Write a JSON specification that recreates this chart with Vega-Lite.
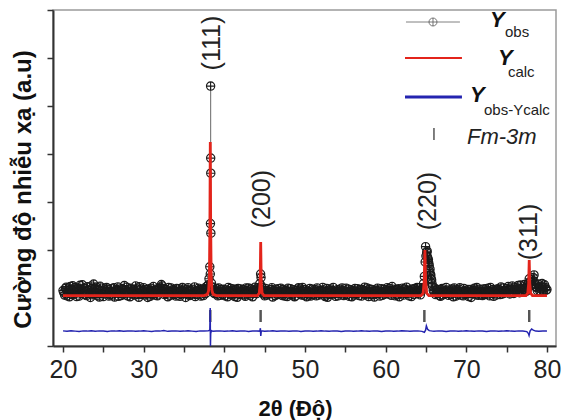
{
  "$schema": "https://vega.github.io/schema/vega-lite/v6.json",
  "autosize": {"type": "none"},
  "width": 503,
  "height": 336,
  "padding": {"left": 53, "top": 10, "right": 7, "bottom": 74},
  "background": "white",
  "config": {
    "font": "Liberation Sans",
    "view": {"stroke": "#9a9a9a", "strokeWidth": 1.5}
  },
  "datasets": {
    "obs": [
      {"x":20.0,"y":2.31},{"x":20.2,"y":2.12},{"x":20.4,"y":2.45},{"x":20.6,"y":2.20},{"x":20.8,"y":2.05},
      {"x":21.0,"y":2.38},{"x":21.2,"y":2.51},{"x":21.4,"y":2.16},{"x":21.6,"y":2.29},{"x":21.8,"y":2.42},
      {"x":22.0,"y":2.08},{"x":22.2,"y":2.35},{"x":22.4,"y":2.55},{"x":22.6,"y":2.22},{"x":22.8,"y":2.14},
      {"x":23.0,"y":2.47},{"x":23.2,"y":2.30},{"x":23.4,"y":2.02},{"x":23.6,"y":2.40},{"x":23.8,"y":2.58},
      {"x":24.0,"y":2.25},{"x":24.2,"y":2.11},{"x":24.4,"y":2.36},{"x":24.6,"y":2.49},{"x":24.8,"y":2.18},
      {"x":25.0,"y":2.06},{"x":25.2,"y":2.33},{"x":25.4,"y":2.44},{"x":25.6,"y":2.21},{"x":25.8,"y":2.13},
      {"x":26.0,"y":2.39},{"x":26.2,"y":2.27},{"x":26.4,"y":2.04},{"x":26.6,"y":2.31},{"x":26.8,"y":2.46},
      {"x":27.0,"y":2.19},{"x":27.2,"y":2.10},{"x":27.4,"y":2.35},{"x":27.6,"y":2.52},{"x":27.8,"y":2.24},
      {"x":28.0,"y":2.09},{"x":28.2,"y":2.28},{"x":28.4,"y":2.41},{"x":28.6,"y":2.17},{"x":28.8,"y":2.34},
      {"x":29.0,"y":2.50},{"x":29.2,"y":2.15},{"x":29.4,"y":2.03},{"x":29.6,"y":2.37},{"x":29.8,"y":2.26},
      {"x":30.0,"y":2.43},{"x":30.2,"y":2.12},{"x":30.4,"y":2.22},{"x":30.6,"y":2.38},{"x":30.8,"y":2.07},
      {"x":31.0,"y":2.30},{"x":31.2,"y":2.48},{"x":31.4,"y":2.20},{"x":31.6,"y":2.11},{"x":31.8,"y":2.33},
      {"x":32.0,"y":2.45},{"x":32.2,"y":2.56},{"x":32.4,"y":2.29},{"x":32.6,"y":2.14},{"x":32.8,"y":2.36},
      {"x":33.0,"y":2.05},{"x":33.2,"y":2.23},{"x":33.4,"y":2.42},{"x":33.6,"y":2.18},{"x":33.8,"y":2.31},
      {"x":34.0,"y":2.08},{"x":34.2,"y":2.26},{"x":34.4,"y":2.39},{"x":34.6,"y":2.15},{"x":34.8,"y":2.44},
      {"x":35.0,"y":2.21},{"x":35.2,"y":2.02},{"x":35.4,"y":2.34},{"x":35.6,"y":2.27},{"x":35.8,"y":2.13},
      {"x":36.0,"y":2.37},{"x":36.2,"y":2.19},{"x":36.4,"y":2.06},{"x":36.6,"y":2.30},{"x":36.8,"y":2.41},
      {"x":37.0,"y":2.16},{"x":37.2,"y":2.25},{"x":37.4,"y":2.10},{"x":37.6,"y":2.35},{"x":37.8,"y":2.48},
      {"x":38.0,"y":2.55},{"x":38.1,"y":2.8},{"x":38.2,"y":3.3},{"x":38.26,"y":3.0},{"x":38.28,"y":5.1},
      {"x":38.3,"y":10.83},{"x":38.31,"y":7.83},{"x":38.32,"y":7.2},{"x":38.33,"y":4.7},{"x":38.4,"y":2.62},
      {"x":38.6,"y":2.30},{"x":38.8,"y":2.18},{"x":39.0,"y":2.40},{"x":39.2,"y":2.09},{"x":39.4,"y":2.27},
      {"x":39.6,"y":2.36},{"x":39.8,"y":2.14},
      {"x":40.0,"y":2.22},{"x":40.2,"y":2.33},{"x":40.4,"y":2.05},{"x":40.6,"y":2.29},{"x":40.8,"y":2.40},
      {"x":41.0,"y":2.12},{"x":41.2,"y":2.19},{"x":41.4,"y":2.35},{"x":41.6,"y":2.03},{"x":41.8,"y":2.26},
      {"x":42.0,"y":2.38},{"x":42.2,"y":2.16},{"x":42.4,"y":2.24},{"x":42.6,"y":2.07},{"x":42.8,"y":2.31},
      {"x":43.0,"y":2.42},{"x":43.2,"y":2.11},{"x":43.4,"y":2.20},{"x":43.6,"y":2.34},{"x":43.8,"y":2.45},
      {"x":44.0,"y":2.18},{"x":44.2,"y":2.29},{"x":44.4,"y":2.6},{"x":44.5,"y":3.0},{"x":44.55,"y":2.85},
      {"x":44.6,"y":2.5},{"x":44.8,"y":2.21},{"x":45.0,"y":2.09},{"x":45.2,"y":2.32},{"x":45.4,"y":2.17},
      {"x":45.6,"y":2.25},{"x":45.8,"y":2.36},
      {"x":46.0,"y":2.04},{"x":46.2,"y":2.23},{"x":46.4,"y":2.37},{"x":46.6,"y":2.14},{"x":46.8,"y":2.28},
      {"x":47.0,"y":2.41},{"x":47.2,"y":2.10},{"x":47.4,"y":2.19},{"x":47.6,"y":2.33},{"x":47.8,"y":2.06},
      {"x":48.0,"y":2.26},{"x":48.2,"y":2.39},{"x":48.4,"y":2.15},{"x":48.6,"y":2.22},{"x":48.8,"y":2.08},
      {"x":49.0,"y":2.31},{"x":49.2,"y":2.43},{"x":49.4,"y":2.17},{"x":49.6,"y":2.12},{"x":49.8,"y":2.35},
      {"x":50.0,"y":2.20},{"x":50.2,"y":2.05},{"x":50.4,"y":2.29},{"x":50.6,"y":2.40},{"x":50.8,"y":2.13},
      {"x":51.0,"y":2.24},{"x":51.2,"y":2.36},{"x":51.4,"y":2.09},{"x":51.6,"y":2.27},{"x":51.8,"y":2.18},
      {"x":52.0,"y":2.32},{"x":52.2,"y":2.44},{"x":52.4,"y":2.11},{"x":52.6,"y":2.21},{"x":52.8,"y":2.03},
      {"x":53.0,"y":2.30},{"x":53.2,"y":2.38},{"x":53.4,"y":2.16},{"x":53.6,"y":2.25},{"x":53.8,"y":2.07},
      {"x":54.0,"y":2.34},{"x":54.2,"y":2.19},{"x":54.4,"y":2.28},{"x":54.6,"y":2.42},{"x":54.8,"y":2.10},
      {"x":55.0,"y":2.23},{"x":55.2,"y":2.14},{"x":55.4,"y":2.37},{"x":55.6,"y":2.26},{"x":55.8,"y":2.05},
      {"x":56.0,"y":2.31},{"x":56.2,"y":2.40},{"x":56.4,"y":2.17},{"x":56.6,"y":2.22},{"x":56.8,"y":2.35},
      {"x":57.0,"y":2.08},{"x":57.2,"y":2.29},{"x":57.4,"y":2.45},{"x":57.6,"y":2.13},{"x":57.8,"y":2.20},
      {"x":58.0,"y":2.38},{"x":58.2,"y":2.15},{"x":58.4,"y":2.27},{"x":58.6,"y":2.04},{"x":58.8,"y":2.33},
      {"x":59.0,"y":2.41},{"x":59.2,"y":2.19},{"x":59.4,"y":2.24},{"x":59.6,"y":2.11},{"x":59.8,"y":2.36},
      {"x":60.0,"y":2.26},{"x":60.2,"y":2.43},{"x":60.4,"y":2.16},{"x":60.6,"y":2.30},{"x":60.8,"y":2.48},
      {"x":61.0,"y":2.21},{"x":61.2,"y":2.09},{"x":61.4,"y":2.34},{"x":61.6,"y":2.39},{"x":61.8,"y":2.18},
      {"x":62.0,"y":2.28},{"x":62.2,"y":2.12},{"x":62.4,"y":2.37},{"x":62.6,"y":2.45},{"x":62.8,"y":2.20},
      {"x":63.0,"y":2.31},{"x":63.2,"y":2.06},{"x":63.4,"y":2.25},{"x":63.6,"y":2.40},{"x":63.8,"y":2.33},
      {"x":64.0,"y":2.19},{"x":64.2,"y":2.42},{"x":64.4,"y":2.35},{"x":64.6,"y":2.4},{"x":64.8,"y":2.9},
      {"x":64.9,"y":3.5},{"x":64.95,"y":4.14},{"x":65.1,"y":3.9},{"x":65.2,"y":3.7},{"x":65.3,"y":3.6},
      {"x":65.4,"y":3.35},{"x":65.5,"y":3.2},{"x":65.6,"y":2.95},{"x":65.7,"y":2.75},{"x":65.8,"y":2.5},
      {"x":66.0,"y":2.24},{"x":66.2,"y":2.14},{"x":66.4,"y":2.36},{"x":66.6,"y":2.29},{"x":66.8,"y":2.07},
      {"x":67.0,"y":2.40},{"x":67.2,"y":2.22},{"x":67.4,"y":2.17},{"x":67.6,"y":2.33},{"x":67.8,"y":2.11},
      {"x":68.0,"y":2.27},{"x":68.2,"y":2.38},{"x":68.4,"y":2.05},{"x":68.6,"y":2.21},{"x":68.8,"y":2.34},
      {"x":69.0,"y":2.15},{"x":69.2,"y":2.43},{"x":69.4,"y":2.26},{"x":69.6,"y":2.09},{"x":69.8,"y":2.30},
      {"x":70.0,"y":2.18},{"x":70.2,"y":2.35},{"x":70.4,"y":2.24},{"x":70.6,"y":2.02},{"x":70.8,"y":2.31},
      {"x":71.0,"y":2.41},{"x":71.2,"y":2.13},{"x":71.4,"y":2.20},{"x":71.6,"y":2.37},{"x":71.8,"y":2.28},
      {"x":72.0,"y":2.10},{"x":72.2,"y":2.23},{"x":72.4,"y":2.39},{"x":72.6,"y":2.16},{"x":72.8,"y":2.30},
      {"x":73.0,"y":2.44},{"x":73.2,"y":2.19},{"x":73.4,"y":2.07},{"x":73.6,"y":2.33},{"x":73.8,"y":2.25},
      {"x":74.0,"y":2.36},{"x":74.2,"y":2.14},{"x":74.4,"y":2.29},{"x":74.6,"y":2.42},{"x":74.8,"y":2.21},
      {"x":75.0,"y":2.32},{"x":75.2,"y":2.48},{"x":75.4,"y":2.17},{"x":75.6,"y":2.38},{"x":75.8,"y":2.26},
      {"x":76.0,"y":2.45},{"x":76.2,"y":2.30},{"x":76.4,"y":2.52},{"x":76.6,"y":2.22},{"x":76.8,"y":2.40},
      {"x":77.0,"y":2.35},{"x":77.2,"y":2.56},{"x":77.4,"y":2.28},{"x":77.6,"y":2.4},{"x":77.7,"y":2.6},
      {"x":77.8,"y":2.8},{"x":78.0,"y":2.7},{"x":78.2,"y":2.75},{"x":78.4,"y":2.96},{"x":78.6,"y":2.55},
      {"x":78.8,"y":2.31},{"x":79.0,"y":2.47},{"x":79.2,"y":2.38},{"x":79.4,"y":2.60},{"x":79.6,"y":2.29},
      {"x":79.8,"y":2.44},{"x":80.0,"y":2.35},
      {"x":20.1,"y":2.22},{"x":20.3,"y":2.40},{"x":20.5,"y":2.09},{"x":20.7,"y":2.33},{"x":20.9,"y":2.48},
      {"x":21.1,"y":2.15},{"x":21.3,"y":2.27},{"x":21.5,"y":2.44},{"x":21.7,"y":2.06},{"x":21.9,"y":2.30},
      {"x":22.1,"y":2.53},{"x":22.3,"y":2.18},{"x":22.5,"y":2.26},{"x":22.7,"y":2.41},{"x":22.9,"y":2.10},
      {"x":23.1,"y":2.34},{"x":23.3,"y":2.21},{"x":23.5,"y":2.50},{"x":23.7,"y":2.13},{"x":23.9,"y":2.37},
      {"x":24.1,"y":2.46},{"x":24.3,"y":2.19},{"x":24.5,"y":2.04},{"x":24.7,"y":2.31},{"x":24.9,"y":2.42},
      {"x":25.1,"y":2.17},{"x":25.3,"y":2.25},{"x":25.5,"y":2.38},{"x":25.7,"y":2.08},{"x":25.9,"y":2.29},
      {"x":26.1,"y":2.12},{"x":26.3,"y":2.43},{"x":26.5,"y":2.20},{"x":26.7,"y":2.35},{"x":26.9,"y":2.07},
      {"x":27.1,"y":2.28},{"x":27.3,"y":2.40},{"x":27.5,"y":2.16},{"x":27.7,"y":2.32},{"x":27.9,"y":2.45},
      {"x":28.1,"y":2.21},{"x":28.3,"y":2.05},{"x":28.5,"y":2.36},{"x":28.7,"y":2.27},{"x":28.9,"y":2.12},
      {"x":29.1,"y":2.39},{"x":29.3,"y":2.24},{"x":29.5,"y":2.47},{"x":29.7,"y":2.14},{"x":29.9,"y":2.32},
      {"x":30.1,"y":2.19},{"x":30.3,"y":2.35},{"x":30.5,"y":2.02},{"x":30.7,"y":2.28},{"x":30.9,"y":2.41},
      {"x":31.1,"y":2.13},{"x":31.3,"y":2.25},{"x":31.5,"y":2.37},{"x":31.7,"y":2.09},{"x":31.9,"y":2.22},
      {"x":32.1,"y":2.34},{"x":32.3,"y":2.50},{"x":32.5,"y":2.40},{"x":32.7,"y":2.18},{"x":32.9,"y":2.27},
      {"x":33.1,"y":2.44},{"x":33.3,"y":2.11},{"x":33.5,"y":2.29},{"x":33.7,"y":2.36},{"x":33.9,"y":2.15},
      {"x":34.1,"y":2.40},{"x":34.3,"y":2.20},{"x":34.5,"y":2.07},{"x":34.7,"y":2.33},{"x":34.9,"y":2.25},
      {"x":35.1,"y":2.38},{"x":35.3,"y":2.16},{"x":35.5,"y":2.43},{"x":35.7,"y":2.10},{"x":35.9,"y":2.30},
      {"x":36.1,"y":2.23},{"x":36.3,"y":2.46},{"x":36.5,"y":2.14},{"x":36.7,"y":2.26},{"x":36.9,"y":2.35},
      {"x":37.1,"y":2.08},{"x":37.3,"y":2.32},{"x":37.5,"y":2.41},{"x":37.7,"y":2.19},{"x":37.9,"y":2.38},
      {"x":38.5,"y":2.45},{"x":38.7,"y":2.21},{"x":38.9,"y":2.34},
      {"x":39.1,"y":2.16},{"x":39.3,"y":2.42},{"x":39.5,"y":2.11},{"x":39.7,"y":2.28},{"x":39.9,"y":2.37},
      {"x":40.1,"y":2.09},{"x":40.3,"y":2.26},{"x":40.5,"y":2.44},{"x":40.7,"y":2.17},{"x":40.9,"y":2.31},
      {"x":41.1,"y":2.38},{"x":41.3,"y":2.06},{"x":41.5,"y":2.23},{"x":41.7,"y":2.40},{"x":41.9,"y":2.14},
      {"x":42.1,"y":2.29},{"x":42.3,"y":2.35},{"x":42.5,"y":2.12},{"x":42.7,"y":2.42},{"x":42.9,"y":2.20},
      {"x":43.1,"y":2.27},{"x":43.3,"y":2.39},{"x":43.5,"y":2.05},{"x":43.7,"y":2.24},{"x":43.9,"y":2.33},
      {"x":44.1,"y":2.41},{"x":44.3,"y":2.36},{"x":44.7,"y":2.30},{"x":44.9,"y":2.16},
      {"x":45.1,"y":2.40},{"x":45.3,"y":2.12},{"x":45.5,"y":2.28},{"x":45.7,"y":2.19},{"x":45.9,"y":2.43},
      {"x":46.1,"y":2.31},{"x":46.3,"y":2.10},{"x":46.5,"y":2.26},{"x":46.7,"y":2.39},{"x":46.9,"y":2.17},
      {"x":47.1,"y":2.24},{"x":47.3,"y":2.36},{"x":47.5,"y":2.08},{"x":47.7,"y":2.29},{"x":47.9,"y":2.41},
      {"x":48.1,"y":2.13},{"x":48.3,"y":2.27},{"x":48.5,"y":2.34},{"x":48.7,"y":2.05},{"x":48.9,"y":2.22},
      {"x":49.1,"y":2.38},{"x":49.3,"y":2.20},{"x":49.5,"y":2.30},{"x":49.7,"y":2.44},{"x":49.9,"y":2.11},
      {"x":50.1,"y":2.34},{"x":50.3,"y":2.17},{"x":50.5,"y":2.25},{"x":50.7,"y":2.08},{"x":50.9,"y":2.37},
      {"x":51.1,"y":2.15},{"x":51.3,"y":2.29},{"x":51.5,"y":2.42},{"x":51.7,"y":2.12},{"x":51.9,"y":2.26},
      {"x":52.1,"y":2.19},{"x":52.3,"y":2.33},{"x":52.5,"y":2.06},{"x":52.7,"y":2.40},{"x":52.9,"y":2.23},
      {"x":53.1,"y":2.14},{"x":53.3,"y":2.31},{"x":53.5,"y":2.44},{"x":53.7,"y":2.18},{"x":53.9,"y":2.28},
      {"x":54.1,"y":2.09},{"x":54.3,"y":2.37},{"x":54.5,"y":2.22},{"x":54.7,"y":2.32},{"x":54.9,"y":2.15},
      {"x":55.1,"y":2.41},{"x":55.3,"y":2.27},{"x":55.5,"y":2.07},{"x":55.7,"y":2.34},{"x":55.9,"y":2.20},
      {"x":56.1,"y":2.12},{"x":56.3,"y":2.28},{"x":56.5,"y":2.39},{"x":56.7,"y":2.10},{"x":56.9,"y":2.24},
      {"x":57.1,"y":2.36},{"x":57.3,"y":2.17},{"x":57.5,"y":2.30},{"x":57.7,"y":2.42},{"x":57.9,"y":2.06},
      {"x":58.1,"y":2.25},{"x":58.3,"y":2.35},{"x":58.5,"y":2.13},{"x":58.7,"y":2.29},{"x":58.9,"y":2.19},
      {"x":59.1,"y":2.30},{"x":59.3,"y":2.08},{"x":59.5,"y":2.39},{"x":59.7,"y":2.27},{"x":59.9,"y":2.16},
      {"x":60.1,"y":2.34},{"x":60.3,"y":2.22},{"x":60.5,"y":2.40},{"x":60.7,"y":2.11},{"x":60.9,"y":2.29},
      {"x":61.1,"y":2.37},{"x":61.3,"y":2.15},{"x":61.5,"y":2.26},{"x":61.7,"y":2.05},{"x":61.9,"y":2.32},
      {"x":62.1,"y":2.41},{"x":62.3,"y":2.24},{"x":62.5,"y":2.18},{"x":62.7,"y":2.33},{"x":62.9,"y":2.09},
      {"x":63.1,"y":2.27},{"x":63.3,"y":2.38},{"x":63.5,"y":2.14},{"x":63.7,"y":2.30},{"x":63.9,"y":2.44},
      {"x":64.1,"y":2.26},{"x":64.3,"y":2.13},{"x":64.5,"y":2.31},
      {"x":64.7,"y":2.6},{"x":65.0,"y":3.75},{"x":65.15,"y":3.95},{"x":65.25,"y":3.5},{"x":65.35,"y":3.45},
      {"x":65.45,"y":3.1},{"x":65.55,"y":3.0},{"x":65.65,"y":2.8},{"x":65.75,"y":2.6},{"x":65.9,"y":2.32},
      {"x":66.1,"y":2.41},{"x":66.3,"y":2.19},{"x":66.5,"y":2.27},{"x":66.7,"y":2.10},{"x":66.9,"y":2.35},
      {"x":67.1,"y":2.13},{"x":67.3,"y":2.30},{"x":67.5,"y":2.44},{"x":67.7,"y":2.20},{"x":67.9,"y":2.26},
      {"x":68.1,"y":2.16},{"x":68.3,"y":2.33},{"x":68.5,"y":2.42},{"x":68.7,"y":2.08},{"x":68.9,"y":2.29},
      {"x":69.1,"y":2.37},{"x":69.3,"y":2.12},{"x":69.5,"y":2.23},{"x":69.7,"y":2.40},{"x":69.9,"y":2.15},
      {"x":70.1,"y":2.28},{"x":70.3,"y":2.06},{"x":70.5,"y":2.35},{"x":70.7,"y":2.19},{"x":70.9,"y":2.25},
      {"x":71.1,"y":2.33},{"x":71.3,"y":2.44},{"x":71.5,"y":2.11},{"x":71.7,"y":2.27},{"x":71.9,"y":2.17},
      {"x":72.1,"y":2.38},{"x":72.3,"y":2.14},{"x":72.5,"y":2.29},{"x":72.7,"y":2.41},{"x":72.9,"y":2.09},
      {"x":73.1,"y":2.26},{"x":73.3,"y":2.35},{"x":73.5,"y":2.20},{"x":73.7,"y":2.12},{"x":73.9,"y":2.39},
      {"x":74.1,"y":2.22},{"x":74.3,"y":2.46},{"x":74.5,"y":2.17},{"x":74.7,"y":2.31},{"x":74.9,"y":2.27},
      {"x":75.1,"y":2.40},{"x":75.3,"y":2.23},{"x":75.5,"y":2.35},{"x":75.7,"y":2.50},{"x":75.9,"y":2.19},
      {"x":76.1,"y":2.33},{"x":76.3,"y":2.42},{"x":76.5,"y":2.28},{"x":76.7,"y":2.54},{"x":76.9,"y":2.24},
      {"x":77.1,"y":2.47},{"x":77.3,"y":2.36},{"x":77.5,"y":2.30},
      {"x":77.9,"y":2.65},{"x":78.1,"y":2.52},{"x":78.3,"y":2.85},{"x":78.5,"y":2.62},
      {"x":78.7,"y":2.43},{"x":78.9,"y":2.58},{"x":79.1,"y":2.30},{"x":79.3,"y":2.49},{"x":79.5,"y":2.37},
      {"x":79.7,"y":2.55},{"x":79.9,"y":2.33}
    ],
    "calc": [
      {"x":20.0,"y":2.1},{"x":37.5,"y":2.1},{"x":37.9,"y":2.15},{"x":38.05,"y":2.3},{"x":38.15,"y":2.9},
      {"x":38.21,"y":5.0},{"x":38.26,"y":8.5},{"x":38.31,"y":5.0},{"x":38.37,"y":2.9},{"x":38.47,"y":2.3},
      {"x":38.62,"y":2.15},{"x":39.0,"y":2.1},
      {"x":44.1,"y":2.1},{"x":44.33,"y":2.2},{"x":44.44,"y":2.6},{"x":44.51,"y":4.33},{"x":44.58,"y":2.6},
      {"x":44.69,"y":2.2},{"x":44.92,"y":2.1},
      {"x":64.4,"y":2.1},{"x":64.65,"y":2.2},{"x":64.78,"y":2.7},{"x":64.87,"y":4.0},{"x":64.96,"y":2.7},
      {"x":65.09,"y":2.2},{"x":65.35,"y":2.1},
      {"x":77.4,"y":2.1},{"x":77.62,"y":2.2},{"x":77.73,"y":2.6},{"x":77.8,"y":3.58},{"x":77.87,"y":2.6},
      {"x":77.98,"y":2.2},{"x":78.2,"y":2.1},{"x":80.0,"y":2.1}
    ],
    "diff": [
      {"x":20.0,"y":0.63},{"x":20.5,"y":0.61},{"x":21.0,"y":0.64},{"x":21.5,"y":0.62},{"x":22.0,"y":0.60},
      {"x":22.5,"y":0.63},{"x":23.0,"y":0.62},{"x":23.5,"y":0.64},{"x":24.0,"y":0.61},{"x":24.5,"y":0.63},
      {"x":25.0,"y":0.62},{"x":25.5,"y":0.60},{"x":26.0,"y":0.63},{"x":26.5,"y":0.62},{"x":27.0,"y":0.64},
      {"x":27.5,"y":0.61},{"x":28.0,"y":0.62},{"x":28.5,"y":0.63},{"x":29.0,"y":0.61},{"x":29.5,"y":0.62},
      {"x":30.0,"y":0.64},{"x":30.5,"y":0.62},{"x":31.0,"y":0.60},{"x":31.5,"y":0.63},{"x":32.0,"y":0.62},
      {"x":32.5,"y":0.65},{"x":33.0,"y":0.61},{"x":33.5,"y":0.62},{"x":34.0,"y":0.63},{"x":34.5,"y":0.61},
      {"x":35.0,"y":0.62},{"x":35.5,"y":0.64},{"x":36.0,"y":0.62},{"x":36.5,"y":0.60},{"x":37.0,"y":0.63},
      {"x":37.5,"y":0.62},{"x":38.0,"y":0.63},{"x":38.2,"y":0.66},{"x":38.25,"y":1.58},{"x":38.28,"y":0.0},
      {"x":38.31,"y":0.52},{"x":38.4,"y":0.64},{"x":38.6,"y":0.61},{"x":39.0,"y":0.62},{"x":39.5,"y":0.63},
      {"x":40.0,"y":0.61},{"x":40.5,"y":0.62},{"x":41.0,"y":0.64},{"x":41.5,"y":0.61},{"x":42.0,"y":0.62},
      {"x":42.5,"y":0.63},{"x":43.0,"y":0.60},{"x":43.5,"y":0.62},{"x":44.0,"y":0.63},{"x":44.4,"y":0.62},
      {"x":44.47,"y":0.74},{"x":44.52,"y":0.42},{"x":44.58,"y":0.63},{"x":45.0,"y":0.61},{"x":45.5,"y":0.62},
      {"x":46.0,"y":0.64},{"x":46.5,"y":0.61},{"x":47.0,"y":0.62},{"x":47.5,"y":0.63},{"x":48.0,"y":0.61},
      {"x":48.5,"y":0.62},{"x":49.0,"y":0.63},{"x":49.5,"y":0.60},{"x":50.0,"y":0.62},{"x":50.5,"y":0.63},
      {"x":51.0,"y":0.61},{"x":51.5,"y":0.62},{"x":52.0,"y":0.64},{"x":52.5,"y":0.62},{"x":53.0,"y":0.61},
      {"x":53.5,"y":0.63},{"x":54.0,"y":0.62},{"x":54.5,"y":0.60},{"x":55.0,"y":0.62},{"x":55.5,"y":0.63},
      {"x":56.0,"y":0.61},{"x":56.5,"y":0.62},{"x":57.0,"y":0.64},{"x":57.5,"y":0.62},{"x":58.0,"y":0.61},
      {"x":58.5,"y":0.63},{"x":59.0,"y":0.62},{"x":59.5,"y":0.60},{"x":60.0,"y":0.62},{"x":60.5,"y":0.63},
      {"x":61.0,"y":0.61},{"x":61.5,"y":0.62},{"x":62.0,"y":0.64},{"x":62.5,"y":0.63},{"x":63.0,"y":0.61},
      {"x":63.5,"y":0.62},{"x":64.0,"y":0.63},{"x":64.5,"y":0.61},{"x":64.8,"y":0.57},{"x":64.95,"y":0.66},
      {"x":65.05,"y":0.84},{"x":65.2,"y":0.70},{"x":65.4,"y":0.64},{"x":65.8,"y":0.62},{"x":66.0,"y":0.61},
      {"x":66.5,"y":0.63},{"x":67.0,"y":0.62},{"x":67.5,"y":0.60},{"x":68.0,"y":0.62},{"x":68.5,"y":0.63},
      {"x":69.0,"y":0.61},{"x":69.5,"y":0.62},{"x":70.0,"y":0.64},{"x":70.5,"y":0.62},{"x":71.0,"y":0.61},
      {"x":71.5,"y":0.63},{"x":72.0,"y":0.62},{"x":72.5,"y":0.60},{"x":73.0,"y":0.62},{"x":73.5,"y":0.63},
      {"x":74.0,"y":0.61},{"x":74.5,"y":0.62},{"x":75.0,"y":0.64},{"x":75.5,"y":0.62},{"x":76.0,"y":0.61},
      {"x":76.5,"y":0.63},{"x":77.0,"y":0.62},{"x":77.5,"y":0.60},{"x":77.7,"y":0.52},{"x":77.78,"y":0.44},
      {"x":77.9,"y":0.62},{"x":78.1,"y":0.71},{"x":78.3,"y":0.66},{"x":78.6,"y":0.62},{"x":79.0,"y":0.61},
      {"x":79.5,"y":0.62},{"x":80.0,"y":0.63}
    ],
    "bragg": [
      {"x":38.26,"y":1.0,"y2":1.5},{"x":44.5,"y":1.0,"y2":1.5},
      {"x":64.8,"y":1.0,"y2":1.5},{"x":77.8,"y":1.0,"y2":1.5}
    ],
    "hkl": [
      {"x":38.47,"y":12.62,"t":"(111)"},{"x":44.61,"y":6.12,"t":"(200)"},
      {"x":65.25,"y":6.04,"t":"(220)"},{"x":77.77,"y":4.75,"t":"(311)"}
    ],
    "keyLines": [
      {"k":"obs","x":62.52,"y":13.5},{"k":"obs","x":69.21,"y":13.5},
      {"k":"calc","x":62.4,"y":12.0},{"k":"calc","x":69.46,"y":12.0},
      {"k":"diff","x":62.4,"y":10.375},{"k":"diff","x":69.46,"y":10.375}
    ]
  },
  "layer": [
    {
      "data": {"name": "obs"},
      "mark": {"type": "line", "color": "#808080", "strokeWidth": 1, "clip": true},
      "encoding": {
        "x": {"field": "x", "type": "quantitative", "scale": {"domain": [18.76, 81.12], "nice": false, "zero": false},
          "axis": {
            "values": [20,25,30,35,40,45,50,55,60,65,70,75,80],
            "labelExpr": "datum.value % 10 === 0 ? datum.label : ''",
            "format": "d",
            "labelFontSize": 25, "labelColor": "#222", "labelPadding": 5, "labelFlush": false,
            "tickSize": 6, "tickWidth": 1.5, "tickColor": "#333",
            "domainColor": "#333", "domainWidth": 2, "grid": false,
            "title": "2θ (Độ)", "titleFontSize": 22, "titleFontWeight": "bold", "titleColor": "#111",
            "titleX": 242, "titleY": 69, "titleBaseline": "alphabetic", "titleAlign": "center"
          }},
        "y": {"field": "y", "type": "quantitative", "scale": {"domain": [0, 14], "nice": false, "zero": false},
          "axis": {
            "values": [0,1,2,3,4,5,6,7,8,9,10,11,12,13,14],
            "labels": false, "tickSize": 6, "tickWidth": 1.5, "tickColor": "#333",
            "domainColor": "#333", "domainWidth": 2, "grid": false,
            "title": "Cường độ nhiễu xạ (a.u)", "titleFontSize": 24, "titleFontWeight": "bold", "titleColor": "#111",
            "titleAngle": 270, "titleX": -30, "titleY": 179, "titleBaseline": "middle", "titleAlign": "center"
          }}
      }
    },
    {
      "data": {"name": "obs"},
      "mark": {"type": "point", "shape": "M-1,0A1,1,0,1,1,1,0A1,1,0,1,1,-1,0ZM-1,0L1,0M0,-1L0,1", "filled": false, "size": 70, "stroke": "#1a1a1a", "strokeWidth": 1.1, "opacity": 1},
      "encoding": {
        "x": {"field": "x", "type": "quantitative"},
        "y": {"field": "y", "type": "quantitative"}
      }
    },
    {
      "data": {"name": "calc"},
      "mark": {"type": "line", "color": "#e3241b", "strokeWidth": 2.8},
      "encoding": {
        "x": {"field": "x", "type": "quantitative"},
        "y": {"field": "y", "type": "quantitative"}
      }
    },
    {
      "data": {"name": "bragg"},
      "mark": {"type": "rule", "color": "#555", "strokeWidth": 2.5},
      "encoding": {
        "x": {"field": "x", "type": "quantitative"},
        "y": {"field": "y", "type": "quantitative"},
        "y2": {"field": "y2"}
      }
    },
    {
      "data": {"name": "diff"},
      "mark": {"type": "line", "color": "#2424b0", "strokeWidth": 1.5},
      "encoding": {
        "x": {"field": "x", "type": "quantitative"},
        "y": {"field": "y", "type": "quantitative"}
      }
    },
    {
      "data": {"name": "hkl"},
      "mark": {"type": "text", "angle": 270, "align": "center", "baseline": "middle", "fontSize": 25, "color": "#222"},
      "encoding": {
        "x": {"field": "x", "type": "quantitative"},
        "y": {"field": "y", "type": "quantitative"},
        "text": {"field": "t"}
      }
    },
    {
      "data": {"name": "keyLines"},
      "mark": {"type": "line"},
      "encoding": {
        "x": {"field": "x", "type": "quantitative"},
        "y": {"field": "y", "type": "quantitative"},
        "detail": {"field": "k"},
        "color": {"field": "k", "type": "nominal", "scale": {"domain": ["obs", "calc", "diff"], "range": ["#808080", "#e3241b", "#2424b0"]}, "legend": null},
        "strokeWidth": {"field": "k", "type": "nominal", "scale": {"domain": ["obs", "calc", "diff"], "range": [1, 3, 2]}, "legend": null}
      }
    },
    {
      "data": {"values": [{"x": 65.87, "y": 13.5}]},
      "mark": {"type": "point", "shape": "M-1,0A1,1,0,1,1,1,0A1,1,0,1,1,-1,0ZM-1,0L1,0M0,-1L0,1", "filled": true, "fill": "white", "size": 64, "stroke": "#555", "strokeWidth": 0.8, "opacity": 1},
      "encoding": {
        "x": {"field": "x", "type": "quantitative"},
        "y": {"field": "y", "type": "quantitative"}
      }
    },
    {
      "data": {"values": [{"x": 65.99, "y": 8.58, "y2": 9.08}]},
      "mark": {"type": "rule", "color": "#555", "strokeWidth": 1.5},
      "encoding": {
        "x": {"field": "x", "type": "quantitative"},
        "y": {"field": "y", "type": "quantitative"},
        "y2": {"field": "y2"}
      }
    },
    {
      "data": {"values": [
        {"x": 72.93, "y": 13.58, "t": "Y"},
        {"x": 73.92, "y": 12.0, "t": "Y"},
        {"x": 70.45, "y": 10.46, "t": "Y"}
      ]},
      "mark": {"type": "text", "align": "left", "baseline": "middle", "fontSize": 22, "fontWeight": "bold", "fontStyle": "italic", "color": "#111"},
      "encoding": {
        "x": {"field": "x", "type": "quantitative"},
        "y": {"field": "y", "type": "quantitative"},
        "text": {"field": "t"}
      }
    },
    {
      "data": {"values": [
        {"x": 74.79, "y": 13.08, "t": "obs"},
        {"x": 75.16, "y": 11.42, "t": "calc"},
        {"x": 72.19, "y": 9.83, "t": "obs-Ycalc"}
      ]},
      "mark": {"type": "text", "align": "left", "baseline": "middle", "fontSize": 15, "color": "#222"},
      "encoding": {
        "x": {"field": "x", "type": "quantitative"},
        "y": {"field": "y", "type": "quantitative"},
        "text": {"field": "t"}
      }
    },
    {
      "data": {"values": [{"x": 70.08, "y": 8.71, "t": "Fm-3m"}]},
      "mark": {"type": "text", "align": "left", "baseline": "middle", "fontSize": 22, "fontStyle": "italic", "color": "#222"},
      "encoding": {
        "x": {"field": "x", "type": "quantitative"},
        "y": {"field": "y", "type": "quantitative"},
        "text": {"field": "t"}
      }
    }
  ]
}
